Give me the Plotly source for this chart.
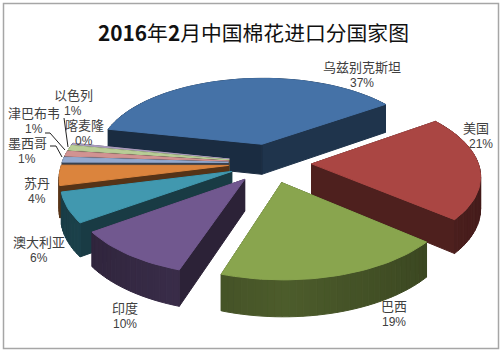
import math
import plotly.graph_objects as go

# ---- data ----
countries = ["乌兹别克斯坦", "美国", "巴西", "印度", "澳大利亚", "苏丹", "墨西哥", "津巴布韦", "以色列", "喀麦隆"]
shares = [37, 21, 19, 10, 6, 4, 1, 1, 1, 0.3]
percent_text = ["37%", "21%", "19%", "10%", "6%", "4%", "1%", "1%", "1%", "0%"]
title_text = "<b>2016</b>年<b>2</b>月中国棉花进口分国家图"

# ---- styles ----
top_colors = ["#4572a7", "#aa4643", "#89a54e", "#71588f", "#4198af", "#db843d", "#93a9cf", "#d19392", "#b9cd96", "#a99bbd"]
wall_dark = 0.46
W, H = 504, 354

# projection of the 3-D exploded pie
CX, CY = 270, 163
A, B, C = 166.5, 79, 0.13
DEPTH = 31
EXPLODE = 0.25
START = 282
FONT = "Noto Sans CJK SC"


def project(x, y, z=0.0):
    d = 1 + C * y
    return CX + A * x / d, CY - B * y / d + z * DEPTH / d


def shade(col, f):
    r, g, b = (int(col[i:i + 2], 16) for i in (1, 3, 5))
    return f"rgb({int(r * f)},{int(g * f)},{int(b * f)})"


def poly(fig, pts, color):
    xs = [p[0] for p in pts] + [pts[0][0]]
    ys = [p[1] for p in pts] + [pts[0][1]]
    fig.add_trace(go.Scatter(x=xs, y=ys, mode="lines", fill="toself", fillcolor=color,
                             line=dict(color=color, width=1), hoverinfo="skip", showlegend=False))


total = sum(shares)
slices = []
ang = START
for i, v in enumerate(shares):
    sweep = v / total * 360
    slices.append((i, ang, ang + sweep))
    ang += sweep

fig = go.Figure()


def geom(a0, a1):
    mid = math.radians((a0 + a1) / 2)
    ox, oy = EXPLODE * math.sin(mid), EXPLODE * math.cos(mid)
    n = max(2, int((a1 - a0) / 2))
    ground = []
    for k in range(n + 1):
        t = math.radians(a0 + (a1 - a0) * k / n)
        ground.append((ox + math.sin(t), oy + math.cos(t)))
    return (ox, oy), ground


def sort_key(s):
    mid = math.radians((s[1] + s[2]) / 2)
    return -math.cos(mid)


for i, a0, a1 in sorted(slices, key=sort_key):
    col = top_colors[i]
    apex, arc = geom(a0, a1)
    faces = []
    faces.append(((apex[1] + arc[0][1]) / 2, (apex, arc[0]), wall_dark * 0.85))
    faces.append(((apex[1] + arc[-1][1]) / 2, (apex, arc[-1]), wall_dark))
    n = len(arc)
    for k in range(n - 1):
        u = k / max(1, n - 2)
        nx = math.sin(math.radians(a0 + (a1 - a0) * u))
        f = 0.40 + 0.16 * (1 - abs(nx))
        faces.append(((arc[k][1] + arc[k + 1][1]) / 2, (arc[k], arc[k + 1]), f))
    for _, (p, q), f in sorted(faces, key=lambda t: -t[0]):
        poly(fig, [project(*p), project(*q), project(*q, 1), project(*p, 1)], shade(col, f))
    poly(fig, [project(*apex)] + [project(*g) for g in arc], col)

# leader lines for the thin slices
leaders = [
    [(50, 146), (56, 146), (62, 157)],
    [(45, 133), (50, 133), (65, 150)],
    [(64, 118), (68, 147)],
]
for seg in leaders:
    fig.add_trace(go.Scatter(x=[p[0] for p in seg], y=[p[1] for p in seg], mode="lines",
                             line=dict(color="#222222", width=1), hoverinfo="skip", showlegend=False))

label_pos = {
    "乌兹别克斯坦": (362, 66, 362, 83),
    "美国": (476, 127, 481, 144),
    "巴西": (394, 305, 394, 322),
    "印度": (125, 307, 125, 324),
    "澳大利亚": (39, 241, 39, 258),
    "苏丹": (37, 182, 37, 199),
    "墨西哥": (27, 142, 27, 159),
    "津巴布韦": (34, 112, 34, 129),
    "以色列": (73, 94, 73, 111),
    "喀麦隆": (84, 124, 84, 141),
}
for name, pct in zip(countries, percent_text):
    lx, ly, px, py = label_pos[name]
    fig.add_annotation(x=lx, y=ly, text=name, showarrow=False, xref="x", yref="y",
                       font=dict(family=FONT, size=13, color="#404040"))
    fig.add_annotation(x=px, y=py, text=pct, showarrow=False, xref="x", yref="y",
                       font=dict(family="Liberation Sans", size=12, color="#404040"))

fig.add_annotation(x=253, y=32, text=title_text, showarrow=False, xref="x", yref="y",
                   font=dict(family=FONT, size=20.8, color="#111111"))

fig.update_layout(
    width=W, height=H, margin=dict(l=0, r=0, t=0, b=0),
    paper_bgcolor="white", plot_bgcolor="white", showlegend=False,
    xaxis=dict(range=[0, W], visible=False, fixedrange=True),
    yaxis=dict(range=[H, 0], visible=False, fixedrange=True),
    shapes=[dict(type="rect", xref="x", yref="y", x0=3.5, y0=3.5, x1=498.5, y1=348.5,
                 line=dict(color="#a6a6a6", width=1.5), fillcolor="rgba(0,0,0,0)", layer="below")],
)
fig.write_html("out.html", config={"displayModeBar": False},
               post_script="document.body.style.margin='0';")
